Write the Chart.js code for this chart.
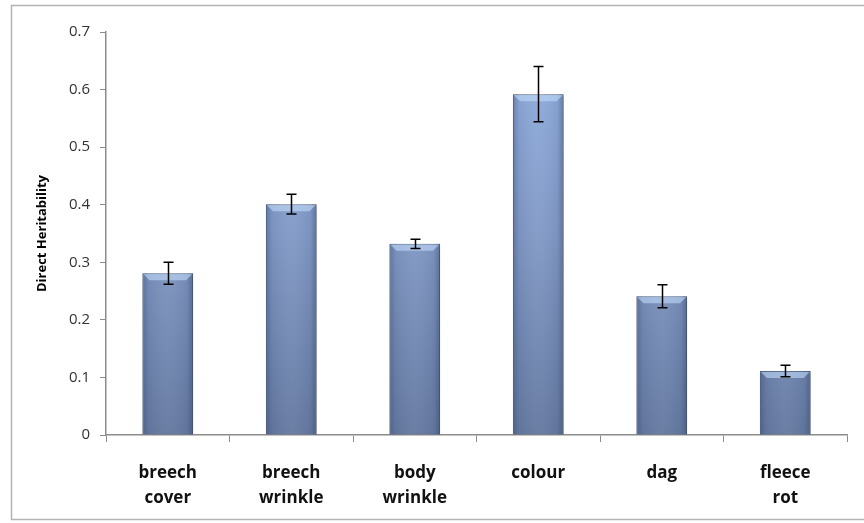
<!DOCTYPE html>
<html>
<head>
<meta charset="utf-8">
<script src="https://cdn.jsdelivr.net/npm/chart.js@4.4.1/dist/chart.umd.min.js"></script>
<style>
  html, body { margin: 0; padding: 0; background: #fff; }
  #wrap { position: relative; width: 864px; height: 523px; }
</style>
</head>
<body>
<div id="wrap"><canvas id="heritChart" width="864" height="523"></canvas></div>
<script>
// Data
const categories = [["breech", "cover"], ["breech", "wrinkle"], ["body", "wrinkle"], "colour", "dag", ["fleece", "rot"]];
const heritability = [0.281, 0.401, 0.332, 0.592, 0.241, 0.111];
const stdErrors = [0.019, 0.017, 0.008, 0.048, 0.02, 0.01];
const yTicks = [0, 0.1, 0.2, 0.3, 0.4, 0.5, 0.6, 0.7];

// Gray frame round the chart
const framePlugin = {
  id: "frame",
  beforeDraw(chart) {
    const ctx = chart.ctx;
    ctx.save();
    ctx.strokeStyle = "#b3b3b3";
    ctx.lineWidth = 1.5;
    ctx.strokeRect(11.5, 5.5, 870, 514);
    ctx.restore();
  },
};

// Soft shadow behind the bars
const shadowPlugin = {
  id: "barShadow",
  beforeDatasetsDraw(chart) {
    const ctx = chart.ctx;
    ctx.save();
    ctx.shadowColor = "rgba(0,0,0,0.25)";
    ctx.shadowBlur = 4;
    ctx.shadowOffsetX = 2;
    ctx.shadowOffsetY = 1;
  },
  afterDatasetsDraw(chart) {
    chart.ctx.restore();
  },
};

// Darker sides and a light bevel on top of each bar, like the original
const bevelPlugin = {
  id: "bevel",
  afterDatasetsDraw(chart) {
    const ctx = chart.ctx;
    const meta = chart.getDatasetMeta(0);
    ctx.save();
    meta.data.forEach((bar) => {
      const left = bar.x - bar.width / 2;
      const right = bar.x + bar.width / 2;
      const top = bar.y;
      const bottom = bar.base;
      const g = ctx.createLinearGradient(left, 0, right, 0);
      g.addColorStop(0, "rgba(40,55,90,0.35)");
      g.addColorStop(0.12, "rgba(40,55,90,0.08)");
      g.addColorStop(0.5, "rgba(255,255,255,0.04)");
      g.addColorStop(0.88, "rgba(40,55,90,0.08)");
      g.addColorStop(1, "rgba(40,55,90,0.4)");
      ctx.fillStyle = g;
      ctx.fillRect(left, top, right - left, bottom - top);
      // top bevel
      const b = 7;
      ctx.beginPath();
      ctx.moveTo(left + 1, top + 1);
      ctx.lineTo(right - 1, top + 1);
      ctx.lineTo(right - b, top + b);
      ctx.lineTo(left + b, top + b);
      ctx.closePath();
      ctx.fillStyle = "rgba(200,225,255,0.55)";
      ctx.fill();
    });
    ctx.restore();
  },
};

// Error bars drawn through the y scale
const errorBarPlugin = {
  id: "errorBars",
  afterDatasetsDraw(chart) {
    const ctx = chart.ctx;
    const y = chart.scales.y;
    const meta = chart.getDatasetMeta(0);
    ctx.save();
    ctx.strokeStyle = "#000";
    ctx.lineWidth = 1.5;
    meta.data.forEach((bar, i) => {
      const top = y.getPixelForValue(heritability[i] + stdErrors[i]);
      const bottom = y.getPixelForValue(heritability[i] - stdErrors[i]);
      const x = Math.round(bar.x) + 0.5;
      ctx.beginPath();
      ctx.moveTo(x, top);
      ctx.lineTo(x, bottom);
      ctx.moveTo(x - 5, top);
      ctx.lineTo(x + 5, top);
      ctx.moveTo(x - 5, bottom);
      ctx.lineTo(x + 5, bottom);
      ctx.stroke();
    });
    ctx.restore();
  },
};

function barGradient(context) {
  const chart = context.chart;
  const area = chart.chartArea;
  if (!area) return "#8aa5d5";
  const g = chart.ctx.createLinearGradient(0, area.top, 0, area.bottom);
  g.addColorStop(0, "#93b1e2");
  g.addColorStop(0.5, "#8199c6");
  g.addColorStop(1, "#6479a0");
  return g;
}

new Chart(document.getElementById("heritChart"), {
  type: "bar",
  data: {
    labels: categories,
    datasets: [
      {
        data: heritability,
        backgroundColor: barGradient,
        borderColor: "#5f7398",
        borderWidth: 1,
        categoryPercentage: 1,
        barPercentage: 0.41,
      },
    ],
  },
  options: {
    responsive: false,
    animation: false,
    layout: { padding: { left: 0, right: 17, top: 32, bottom: 0 } },
    plugins: {
      legend: { display: false },
      tooltip: { enabled: false },
    },
    scales: {
      x: {
        grid: {
          offset: true,
          drawOnChartArea: false,
          tickLength: 7,
          color: "#8c8c8c",
        },
        border: { color: "#8c8c8c", width: 1.5 },
        ticks: {
          color: "#111",
          padding: 18,
          maxRotation: 0,
          font: { family: "Open Sans", size: 17, weight: "bold", lineHeight: 1.5 },
        },
        afterFit(scale) {
          scale.height = 88;
        },
      },
      y: {
        min: 0,
        max: 0.7,
        afterBuildTicks(scale) {
          scale.ticks = yTicks.map((v) => ({ value: v }));
        },
        grid: {
          drawOnChartArea: false,
          tickLength: 6,
          color: "#8c8c8c",
        },
        border: { color: "#8c8c8c", width: 1.5 },
        ticks: {
          color: "#333",
          padding: 10,
          font: { family: "Open Sans", size: 15 },
          callback: (v) => String(Math.round(v * 10) / 10),
        },
        title: {
          display: true,
          text: "Direct Heritability",
          color: "#000",
          padding: { top: 34, bottom: 0 },
          font: { family: "Open Sans", size: 13, weight: "bold" },
        },
        afterFit(scale) {
          scale.width = 106;
        },
      },
    },
  },
  plugins: [framePlugin, shadowPlugin, bevelPlugin, errorBarPlugin],
});
</script>
</body>
</html>
